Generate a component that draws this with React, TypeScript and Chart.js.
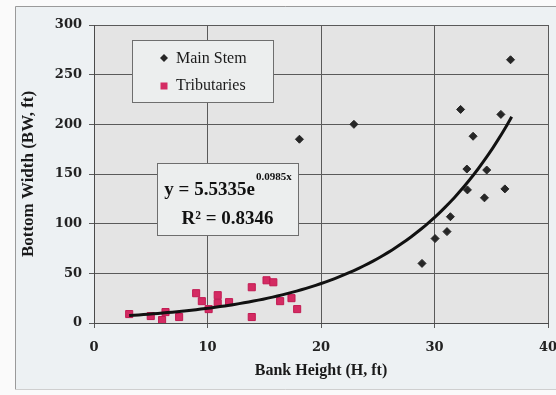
import React, { useEffect, useRef } from "react";
import { Chart, registerables } from "chart.js";

Chart.register(...registerables);

// ---- data ----
const xTickValues = [0, 10, 20, 30, 40];
const yTickValues = [0, 50, 100, 150, 200, 250, 300];

const mainStemH = [18.1, 22.9, 28.9, 30.05, 31.1, 31.4, 32.3, 32.85, 32.9, 33.4, 34.4, 34.6, 35.85, 36.2, 36.7];
const mainStemBW = [185, 200, 60, 85, 92, 107, 215, 155, 134, 188, 126, 154, 210, 135, 265];

const tribH = [3.1, 5.0, 6.0, 6.3, 7.5, 9.0, 9.5, 10.1, 10.9, 10.9, 11.9, 13.9, 13.9, 15.2, 15.8, 16.4, 17.4, 17.9];
const tribBW = [9, 7, 3, 11, 6, 30, 22, 14, 28, 20, 21, 36, 6, 43, 41, 22, 25, 14];

// exponential trendline shown on the chart: y = a * e^(b x)
const trendA = 5.5335;
const trendB = 0.0985;
const trendR2 = 0.8346;
const trendStart = 3.1;
const trendEnd = 36.8;
const trendSteps = 80;

const labels = ["Main Stem", "Tributaries"];
const xTitle = "Bank Height (H, ft)";
const yTitle = "Bottom Width (BW, ft)";

const trendPoints = Array.from({ length: trendSteps + 1 }, (_, i) => {
  const x = trendStart + ((trendEnd - trendStart) * i) / trendSteps;
  return { x, y: trendA * Math.exp(trendB * x) };
});

const MAIN_COLOR = "#262626";
const TRIB_COLOR = "#d42b63";
const GRID = "#5a5a5a";

const decorPlugin = {
  id: "decor",
  beforeDraw(chart: any) {
    const { ctx, width, height, chartArea: a } = chart;
    ctx.save();
    ctx.fillStyle = "#fafafa";
    ctx.fillRect(0, 0, width, height);
    ctx.fillStyle = "#edf1f3";
    ctx.fillRect(15, 6, width - 15, 383);
    ctx.lineWidth = 1;
    ctx.strokeStyle = "#9a9a9a";
    ctx.beginPath();
    ctx.moveTo(15.5, 389.5);
    ctx.lineTo(15.5, 6.5);
    ctx.lineTo(width, 6.5);
    ctx.stroke();
    ctx.strokeStyle = "#cfcfcf";
    ctx.beginPath();
    ctx.moveTo(15.5, 389.5);
    ctx.lineTo(width, 389.5);
    ctx.stroke();
    ctx.fillStyle = "#e4e4e4";
    ctx.fillRect(a.left, a.top, a.right - a.left, a.bottom - a.top);
    ctx.restore();
  },
  afterDatasetsDraw(chart: any) {
    const { ctx, chartArea: a } = chart;
    ctx.save();
    // legend box
    const lx = a.left + 38, ly = a.top + 15, lw = 141, lh = 62;
    ctx.fillStyle = "#eceeee";
    ctx.fillRect(lx, ly, lw, lh);
    ctx.strokeStyle = "#6e6e6e";
    ctx.lineWidth = 1;
    ctx.strokeRect(lx + 0.5, ly + 0.5, lw, lh);
    // markers
    ctx.fillStyle = MAIN_COLOR;
    const dx = lx + 32, dy = ly + 18;
    ctx.beginPath();
    ctx.moveTo(dx, dy - 4);
    ctx.lineTo(dx + 4, dy);
    ctx.lineTo(dx, dy + 4);
    ctx.lineTo(dx - 4, dy);
    ctx.closePath();
    ctx.fill();
    ctx.fillStyle = TRIB_COLOR;
    ctx.fillRect(dx - 3.5, ly + 46 - 3.5, 7, 7);
    ctx.fillStyle = "#1a1a1a";
    ctx.font = "16px 'Liberation Serif', 'Times New Roman', serif";
    ctx.textBaseline = "alphabetic";
    ctx.textAlign = "left";
    ctx.fillText(labels[0], lx + 44, ly + 23);
    ctx.fillText(labels[1], lx + 44, ly + 50);

    // equation box
    const ex = a.left + 63, ey = a.top + 138, ew = 141, eh = 72;
    ctx.fillStyle = "#eceeee";
    ctx.fillRect(ex, ey, ew, eh);
    ctx.strokeStyle = "#6e6e6e";
    ctx.strokeRect(ex + 0.5, ey + 0.5, ew, eh);
    const cx = ex + ew / 2;
    const mainFont = "bold 19px 'Liberation Serif', 'Times New Roman', serif";
    const supFont = "bold 11px 'Liberation Serif', 'Times New Roman', serif";
    const t1 = `y = ${trendA}e`;
    const t2 = `${trendB}x`;
    ctx.font = mainFont;
    const w1 = ctx.measureText(t1).width;
    ctx.font = supFont;
    const w2 = ctx.measureText(t2).width;
    const sx = cx - (w1 + w2) / 2;
    ctx.fillStyle = "#111";
    ctx.font = mainFont;
    ctx.fillText(t1, sx, ey + 32);
    ctx.font = supFont;
    ctx.fillText(t2, sx + w1 + 1, ey + 17);
    ctx.font = mainFont;
    ctx.textAlign = "center";
    ctx.fillText(`R\u00B2 = ${trendR2}`, cx, ey + 61);
    ctx.restore();
  },
};

export default function App() {
  const ref = useRef<HTMLCanvasElement | null>(null);

  useEffect(() => {
    if (!ref.current) return;
    const tickFont = { family: "'DejaVu Serif', serif", size: 13, weight: "bold" as const };
    const titleFont = { family: "'Liberation Serif', 'Times New Roman', serif", weight: "bold" as const };
    const chart = new Chart(ref.current, {
      type: "scatter",
      data: {
        datasets: [
          {
            type: "line",
            label: "trend",
            data: trendPoints,
            borderColor: "#111111",
            borderWidth: 3,
            pointRadius: 0,
            showLine: true,
            fill: false,
            tension: 0,
            order: 0,
          } as any,
          {
            label: labels[0],
            data: mainStemH.map((x, i) => ({ x, y: mainStemBW[i] })),
            pointStyle: "rectRot",
            pointRadius: 4,
            backgroundColor: MAIN_COLOR,
            borderColor: MAIN_COLOR,
            borderWidth: 1,
            order: 1,
          },
          {
            label: labels[1],
            data: tribH.map((x, i) => ({ x, y: tribBW[i] })),
            pointStyle: "rect",
            pointRadius: 5,
            backgroundColor: TRIB_COLOR,
            borderColor: "#c21a52",
            borderWidth: 1,
            order: 2,
          },
        ],
      },
      options: {
        responsive: false,
        animation: false,
        devicePixelRatio: 1,
        layout: { padding: { top: 25, right: 8, left: 0, bottom: 0 } },
        plugins: { legend: { display: false }, tooltip: { enabled: false } },
        scales: {
          x: {
            type: "linear",
            min: xTickValues[0],
            max: xTickValues[xTickValues.length - 1],
            afterBuildTicks: (s: any) => {
              s.ticks = xTickValues.map((v) => ({ value: v }));
            },
            afterFit: (s: any) => {
              s.height = 72;
              s.paddingLeft = 0;
              s.paddingRight = 0;
            },
            grid: { color: GRID, lineWidth: 1, tickLength: 5, drawTicks: true },
            border: { display: true, color: "#4a4a4a", width: 1 },
            ticks: { font: tickFont, color: "#222", padding: 12, maxRotation: 0 },
            title: {
              display: true,
              text: xTitle,
              font: { ...titleFont, size: 16 },
              color: "#1a1a1a",
              padding: { top: 0, bottom: 15 },
            },
          },
          y: {
            type: "linear",
            min: yTickValues[0],
            max: yTickValues[yTickValues.length - 1],
            afterBuildTicks: (s: any) => {
              s.ticks = yTickValues.map((v) => ({ value: v }));
            },
            afterFit: (s: any) => {
              s.width = 94;
            },
            grid: { color: GRID, lineWidth: 1, tickLength: 5, drawTicks: true },
            border: { display: true, color: "#4a4a4a", width: 1 },
            ticks: { font: tickFont, color: "#222", padding: 7 },
            title: {
              display: true,
              text: yTitle,
              font: { ...titleFont, size: 17 },
              color: "#1a1a1a",
              padding: { top: 18, bottom: 0 },
            },
          },
        },
      },
      plugins: [decorPlugin],
    });
    return () => chart.destroy();
  }, []);

  return (
    <div style={{ position: "fixed", left: 0, top: 0, width: 556, height: 395 }}>
      <canvas ref={ref} width={556} height={395} style={{ display: "block" }} />
    </div>
  );
}
